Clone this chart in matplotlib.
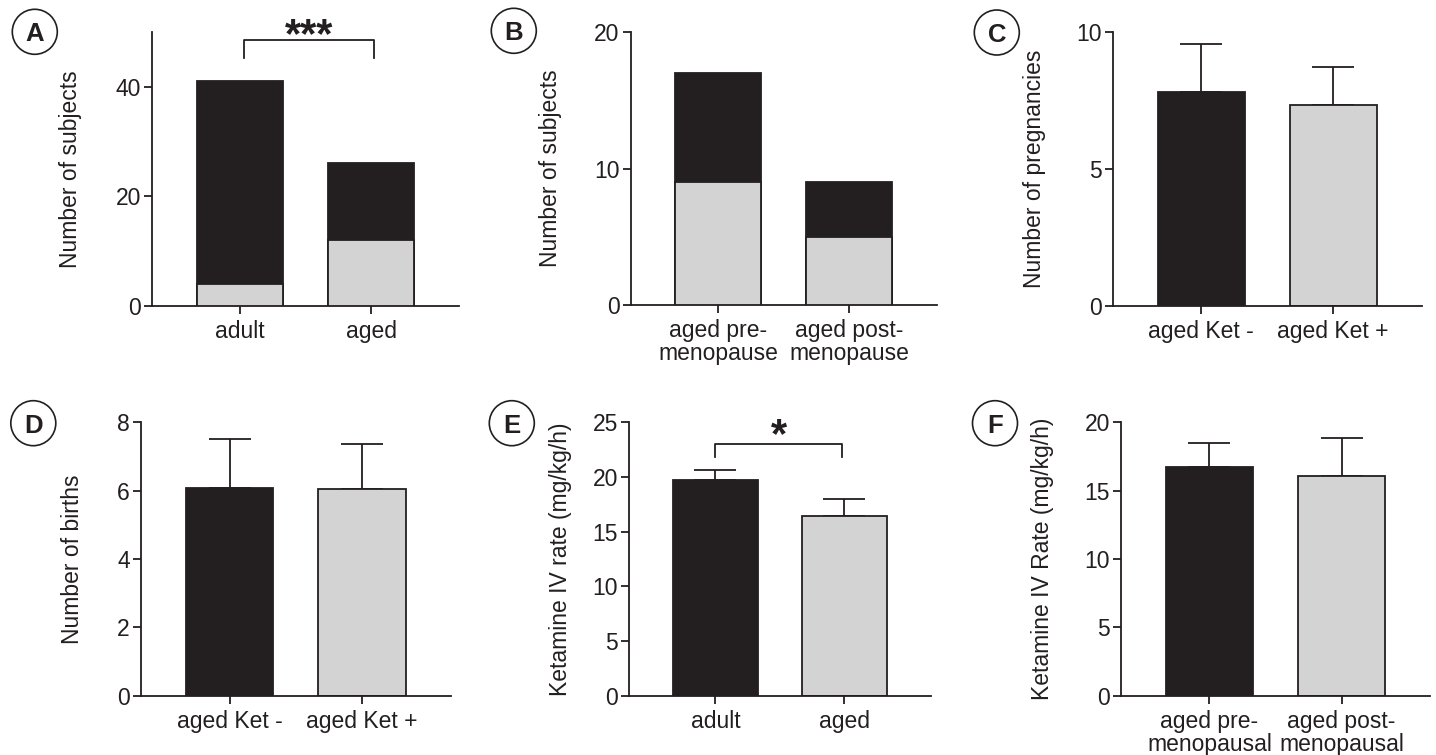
import matplotlib
matplotlib.use("Agg")
import matplotlib.pyplot as plt
from matplotlib.patches import Ellipse

plt.rcParams['font.family'] = ['Liberation Sans', 'DejaVu Sans']

# ---------------- data ----------------
cats_A = ["adult", "aged"]
A_total = [41, 26]
A_gray = [4, 12]

cats_B = ["aged pre-\nmenopause", "aged post-\nmenopause"]
B_total = [17, 9]
B_gray = [9, 5]

cats_C = ["aged Ket -", "aged Ket +"]
C_mean = [7.83, 7.34]
C_err = [1.73, 1.39]

cats_D = ["aged Ket -", "aged Ket +"]
D_mean = [6.09, 6.06]
D_err = [1.43, 1.31]

cats_E = ["adult", "aged"]
E_mean = [19.72, 16.43]
E_err = [0.94, 1.57]

cats_F = ["aged pre-\nmenopausal", "aged post-\nmenopausal"]
F_mean = [16.75, 16.1]
F_err = [1.74, 2.75]

# ---------------- style ----------------
W, H = 1436, 755
DARK = "#231f20"
GRAY = "#d3d3d3"
FS = 16.5
LW = 1.3
BW = 0.66

fig = plt.figure(figsize=(W / 100, H / 100), dpi=100)


def make_ax(left, right, top, bottom):
    ax = fig.add_axes([left / W, 1 - bottom / H, (right - left) / W, (bottom - top) / H])
    for s in ("top", "right"):
        ax.spines[s].set_visible(False)
    for s in ("left", "bottom"):
        ax.spines[s].set_linewidth(LW)
        ax.spines[s].set_color(DARK)
    ax.tick_params(axis="both", labelsize=FS, width=LW, length=6, color=DARK,
                   labelcolor=DARK)
    ax.tick_params(axis="y", pad=2)
    ax.tick_params(axis="x", pad=4)
    ax.set_xlim(-0.67, 1.67)
    return ax


def set_ylabel(ax, text, xpix, left, right):
    ax.set_ylabel(text, fontsize=FS, va="center", color=DARK)
    ax.yaxis.set_label_coords((xpix - left) / (right - left), 0.5)


def circ_label(letter, cx, cy):
    e = Ellipse((cx / W, 1 - cy / H), 45 / W, 45 / H, transform=fig.transFigure,
                fc="white", ec=DARK, lw=1.2)
    fig.add_artist(e)
    fig.text(cx / W, 1 - cy / H, letter, ha="center", va="center_baseline",
             fontsize=18.5, fontweight="bold", color=DARK)


def stacked(ax, cats, total, gray):
    x = list(range(len(cats)))
    ax.bar(x, total, width=BW, color=DARK, edgecolor=DARK, lw=LW, zorder=2)
    ax.bar(x, gray, width=BW, color=GRAY, edgecolor=DARK, lw=LW, zorder=3)
    ax.set_xticks(x)
    ax.set_xticklabels(cats, linespacing=1.0)


def errbars(ax, cats, mean, err):
    x = list(range(len(cats)))
    ax.errorbar(x, mean, yerr=[[0] * len(err), err], fmt="none", ecolor=DARK,
                elinewidth=LW, capsize=15, capthick=LW, zorder=1)
    ax.bar(x, mean, width=BW, color=[DARK, GRAY], edgecolor=DARK, lw=LW, zorder=2)
    ax.set_xticks(x)
    ax.set_xticklabels(cats, linespacing=1.0)


def bracket(ax, x0, x1, ytop, yleg, text, ytext, xtext):
    ax.plot([x0, x0, x1, x1], [yleg, ytop, ytop, yleg], color=DARK, lw=LW,
            clip_on=False, zorder=4)
    ax.text(xtext, ytext, text, ha="center", va="baseline", fontsize=30,
            fontweight="bold", color=DARK, clip_on=False)


# Panel A
axA = make_ax(152, 459, 32, 305.7)
stacked(axA, cats_A, A_total, A_gray)
axA.set_ylim(0, 50)
axA.set_yticks([0, 20, 40])
axA.spines["left"].set_bounds(0, 50)
set_ylabel(axA, "Number of subjects", 70, 152, 459)
bracket(axA, 0.03, 1.02, 48.5, 45.3, "***", 47.3, 0.53)

# Panel B
axB = make_ax(630.7, 936.7, 32.3, 305)
stacked(axB, cats_B, B_total, B_gray)
axB.set_ylim(0, 20)
axB.set_yticks([0, 10, 20])
set_ylabel(axB, "Number of subjects", 550, 630.7, 936.7)

# Panel C
axC = make_ax(1112.7, 1421.7, 32.3, 305.7)
errbars(axC, cats_C, C_mean, C_err)
axC.set_ylim(0, 10)
axC.set_yticks([0, 5, 10])
set_ylabel(axC, "Number of pregnancies", 1034, 1112.7, 1421.7)

# Panel D
axD = make_ax(141, 450.7, 422.3, 695.7)
errbars(axD, cats_D, D_mean, D_err)
axD.set_ylim(0, 8)
axD.set_yticks([0, 2, 4, 6, 8])
set_ylabel(axD, "Number of births", 73, 141, 450.7)

# Panel E
axE = make_ax(629, 930.7, 422.3, 695.7)
errbars(axE, cats_E, E_mean, E_err)
axE.set_ylim(0, 25)
axE.set_yticks([0, 5, 10, 15, 20, 25])
set_ylabel(axE, "Ketamine IV rate (mg/kg/h)", 561, 629, 930.7)
bracket(axE, 0.0, 0.98, 23.0, 21.85, "*", 22.7, 0.49)

# Panel F
axF = make_ax(1121, 1430, 422.3, 695.7)
errbars(axF, cats_F, F_mean, F_err)
axF.set_ylim(0, 20)
axF.set_yticks([0, 5, 10, 15, 20])
set_ylabel(axF, "Ketamine IV Rate (mg/kg/h)", 1042, 1121, 1430)

for letter, cx, cy in [("A", 34.8, 31.8), ("B", 513.8, 30.8), ("C", 996.8, 32.5),
                       ("D", 33.3, 423.2), ("E", 511.8, 423.2), ("F", 995, 423.2)]:
    circ_label(letter, cx, cy)

fig.savefig("out.png", dpi=100, facecolor="white")
